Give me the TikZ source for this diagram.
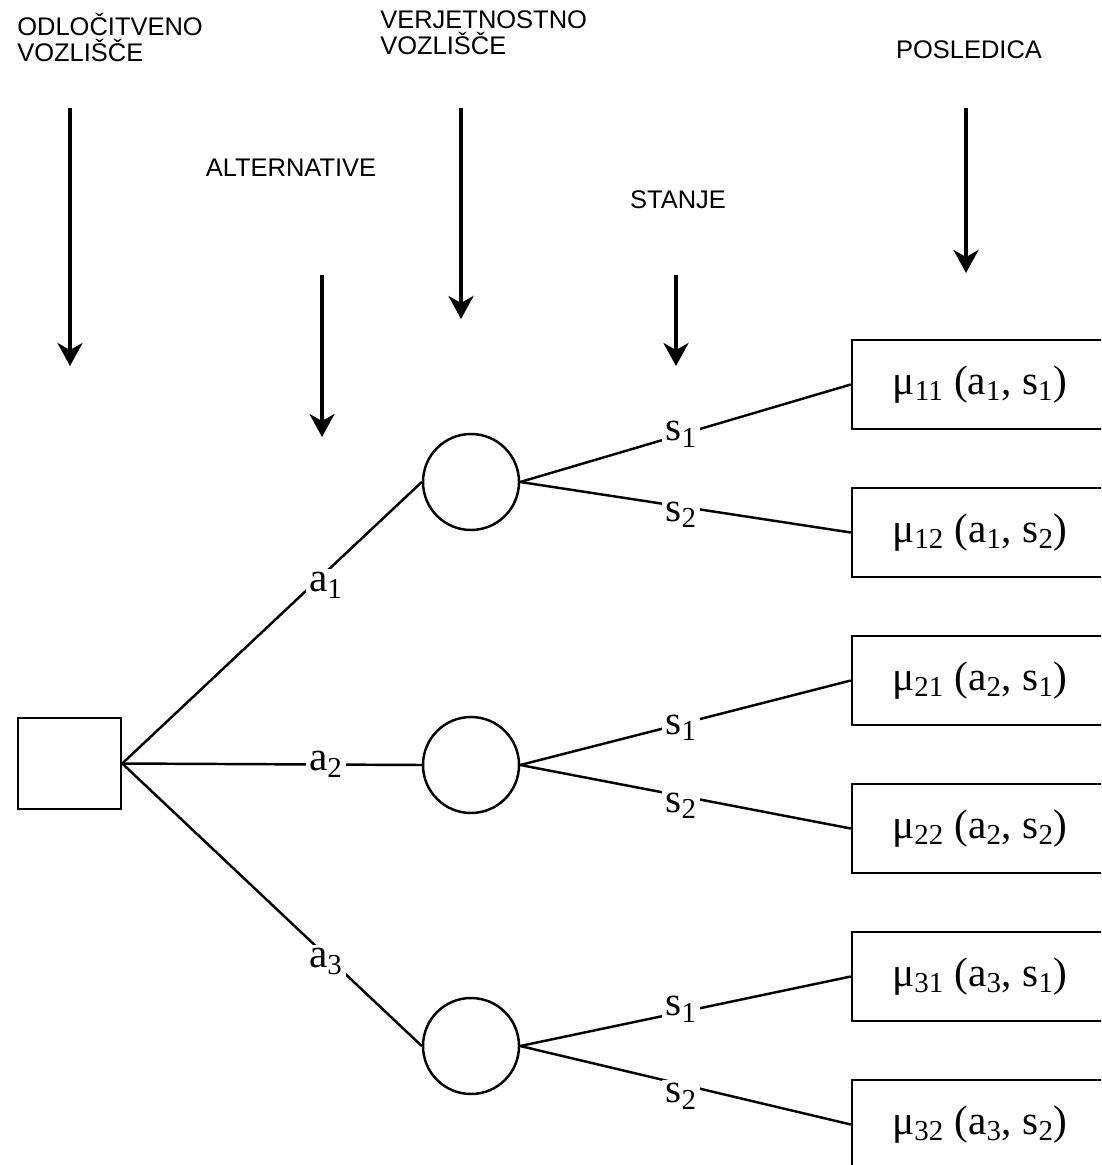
\documentclass[tikz,border=0pt]{standalone}
\usepackage{fontspec}
\setmainfont{Liberation Serif}
\newfontfamily\hdrfont{Liberation Sans}
\usetikzlibrary{arrows.meta}
\newcommand{\sbs}[1]{\textsubscript{#1}}
\begin{document}
\begin{tikzpicture}[x=0.02cm,y=-0.02cm,
  conn/.style={line width=1.4pt},
  arr/.style={line width=2pt,-{Stealth[length=0.46cm,width=0.5cm,inset=0.14cm]}},
  decision/.style={draw,line width=1.4pt,rectangle,minimum width=103*0.02cm,minimum height=91*0.02cm,inner sep=0pt},
  chance/.style={draw,line width=1.4pt,circle,minimum size=96*0.02cm,inner sep=0pt},
  outcome/.style={draw,line width=1.4pt,rectangle,minimum width=256*0.02cm,minimum height=89*0.02cm,inner sep=0pt,font=\fontsize{23.5pt}{25pt}\selectfont},
  elab/.style={fill=white,inner sep=2pt,font=\fontsize{23.5pt}{25pt}\selectfont},
  hdr/.style={inner sep=0pt,font=\hdrfont\fontsize{14.5pt}{15.3pt}\selectfont,align=left}
]
\clip (0,0) rectangle (1101,1165);
\fill[white] (0,0) rectangle (1101,1165);

% headers
\node[hdr,anchor=base west] (h1) at (17,62) {ODLOČITVENO\\VOZLIŠČE};
\node[hdr,anchor=base west] (h2) at (380,55) {VERJETNOSTNO\\VOZLIŠČE};
\node[hdr,anchor=base] (h3) at (291,177) {ALTERNATIVE};
\node[hdr,anchor=base] (h4) at (678,209) {STANJE};
\node[hdr,anchor=base] (h5) at (969,59) {POSLEDICA};

% arrows
\coordinate (t1) at (70,108);  \coordinate (e1) at (70,366);
\coordinate (t2) at (322,275); \coordinate (e2) at (322,437);
\coordinate (t3) at (461,108); \coordinate (e3) at (461,319);
\coordinate (t4) at (676,275); \coordinate (e4) at (676,366);
\coordinate (t5) at (966,108); \coordinate (e5) at (966,273);
\foreach \i in {1,...,5} {\draw[arr] (t\i) -- (e\i);}

% nodes
\node[decision] (sq) at (69.5,763.5) {};
\node[chance] (c1) at (471,482) {};
\node[chance] (c2) at (471,765) {};
\node[chance] (c3) at (471,1046) {};

\node[outcome] (b11) at (980,384.5) {μ\sbs{11} (a\sbs{1}, s\sbs{1})};
\node[outcome] (b12) at (980,532.5) {μ\sbs{12} (a\sbs{1}, s\sbs{2})};
\node[outcome] (b21) at (980,680.5) {μ\sbs{21} (a\sbs{2}, s\sbs{1})};
\node[outcome] (b22) at (980,828.5) {μ\sbs{22} (a\sbs{2}, s\sbs{2})};
\node[outcome] (b31) at (980,976.5) {μ\sbs{31} (a\sbs{3}, s\sbs{1})};
\node[outcome] (b32) at (980,1124.5) {μ\sbs{32} (a\sbs{3}, s\sbs{2})};

% alternatives
\draw[conn] (sq.east) -- node[elab,pos=0.68,yshift=-0.26cm] (la1) {a\sbs{1}} (c1.west);
\draw[conn] (sq.east) -- node[elab,pos=0.68] (la2) {a\sbs{2}} (c2.west);
\draw[conn] (sq.east) -- node[elab,pos=0.68,yshift=-0.12cm] (la3) {a\sbs{3}} (c3.west);

% states
\foreach \c/\sa/\sb in {1/0/-0.16,2/-0.08/-0.2,3/0.06/-0.24} {
  \draw[conn] (c\c.east) -- node[elab,pos=0.487,yshift=\sa cm] (ls\c1) {s\sbs{1}} (b\c1.west);
  \draw[conn] (c\c.east) -- node[elab,pos=0.487,yshift=\sb cm] (ls\c2) {s\sbs{2}} (b\c2.west);
}
\end{tikzpicture}
\end{document}
